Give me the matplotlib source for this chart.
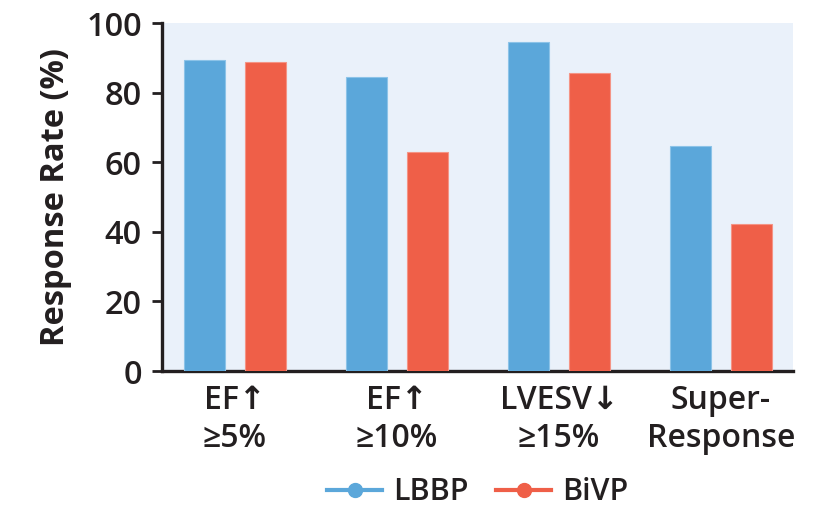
import matplotlib
matplotlib.use("Agg")
import matplotlib.pyplot as plt
from matplotlib.lines import Line2D
import numpy as np

categories = ["EF\u2191\n\u22655%", "EF\u2191\n\u226510%", "LVESV\u2193\n\u226515%", "Super-\nResponse"]
lbbp = [89.4, 84.4, 94.6, 64.7]
bivp = [88.9, 63.0, 85.6, 42.2]
yticks = [0, 20, 40, 60, 80, 100]

blue = "#5BA7DA"
red = "#EF5F48"
bg = "#EAF1FA"
txt = "#231F20"

plt.rcParams['font.family'] = ['Open Sans', 'DejaVu Sans']
plt.rcParams['text.color'] = txt

fig = plt.figure(figsize=(8.18, 5.09), dpi=100)
ax = fig.add_axes([0.198, 0.271, 0.9694 - 0.198, 0.9548 - 0.271])
ax.set_facecolor(bg)

x = np.arange(len(categories))
w = 0.253
off = 0.188
ax.bar(x - off, lbbp, w, color=blue, edgecolor="#8CC3E8", linewidth=0.8, zorder=3)
ax.bar(x + off, bivp, w, color=red, edgecolor="#F49485", linewidth=0.8, zorder=3)

ax.set_xlim(-0.45, 3.444)
ax.set_ylim(0, 100)
ax.set_yticks(yticks)
ax.set_yticklabels([str(v) for v in yticks], fontsize=23.5, fontweight='semibold', color=txt)
ax.set_xticks(x)
ax.set_xticklabels(categories, fontsize=23, fontweight='semibold', linespacing=1.2, color=txt)
ax.tick_params(axis='y', length=7.5, width=2.0, color=txt, pad=7)
ax.tick_params(axis='x', length=0, pad=9)
for s in ['top', 'right']:
    ax.spines[s].set_visible(False)
for s in ['left', 'bottom']:
    ax.spines[s].set_linewidth(2.4)
    ax.spines[s].set_color(txt)
ax.set_ylabel("Response Rate (%)", fontsize=23.5, fontweight='bold', labelpad=10, color=txt)

handles = [Line2D([0], [0], color=blue, lw=3, marker='o', markersize=10),
           Line2D([0], [0], color=red, lw=3, marker='o', markersize=10)]
fig.legend(handles, ["LBBP", "BiVP"], loc='center', bbox_to_anchor=(0.584, 0.033),
           ncol=2, frameon=False, prop={'size': 22, 'weight': 'semibold'},
           handlelength=1.8, handletextpad=0.35, columnspacing=0.9,
           borderpad=0, borderaxespad=0)

fig.savefig("out.png", dpi=100)
